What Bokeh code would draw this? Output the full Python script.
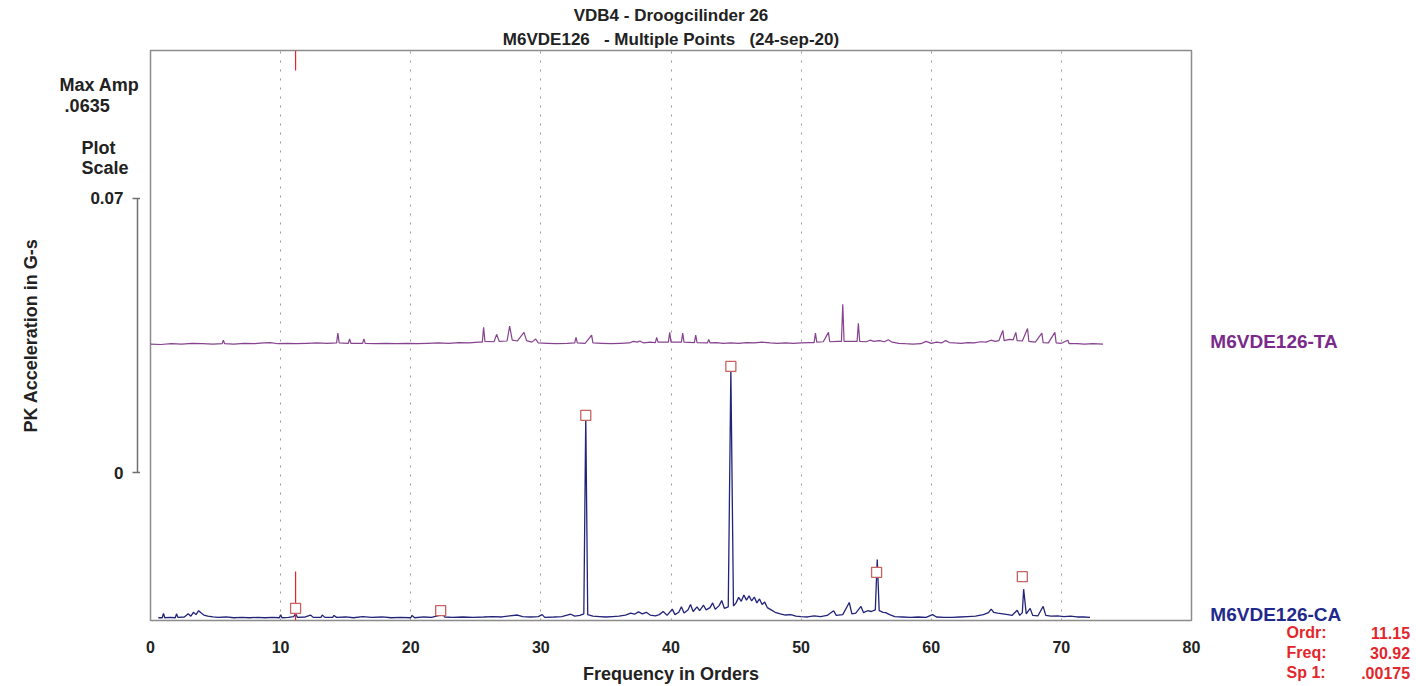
from bokeh.plotting import figure
from bokeh.models import Range1d, FixedTicker, Title
from bokeh.layouts import row, column
from bokeh.core.properties import value
from bokeh.core.validation import silence
from bokeh.core.validation.warnings import MISSING_RENDERERS
from bokeh.embed import file_html
from bokeh.resources import INLINE

silence(MISSING_RENDERERS, True)

# ---------------- data ----------------
title_line1 = "VDB4 - Droogcilinder 26"
title_line2 = "M6VDE126\u00a0\u00a0 - Multiple Points\u00a0\u00a0 (24-sep-20)"
x_label = "Frequency in Orders"
y_label = "PK Acceleration in G-s"
x_ticks = [0, 10, 20, 30, 40, 50, 60, 70, 80]
scale_ticks = [0, 0.07]
scale_tick_labels = {0: "0", 0.07: "0.07"}
max_amp_text = ".0635"
ta_name = "M6VDE126-TA"
ca_name = "M6VDE126-CA"
ta_offset = 0.0698          # waterfall offset of the upper trace (G-s)
cursor_order = 11.15
cursor_freq = 30.92
cursor_amp = ".00175"

ca_orders = [0.6, 0.9, 1.0, 1.1, 1.5, 1.9, 2.0, 2.1, 2.6, 2.9, 3.1, 3.3, 3.5, 3.7, 3.9, 4.1, 4.4, 4.8,
             5.2, 5.8, 6.4, 7.0, 7.6, 8.2, 8.8, 9.4, 9.9, 10.0, 10.1, 10.6, 11.0, 11.15, 11.3, 11.9,
             12.3, 12.5, 13.1, 13.2, 13.4, 14.0, 14.1, 14.3, 15.0, 15.6, 16.3, 17.0, 17.8, 18.5,
             19.2, 20.0, 20.1, 20.3, 21.0, 21.6, 22.2, 22.4, 22.6, 23.2, 24.0, 24.8, 25.6, 26.3,
             27.0, 27.6, 28.2, 28.6, 29.2, 29.8, 30.1, 30.3, 31.0, 31.6, 32.3, 32.6, 33.0, 33.3,
             33.45, 33.6, 34.0, 34.5, 35.0, 35.5, 36.0, 36.5, 36.9, 37.2, 37.5, 37.8, 38.1, 38.4,
             38.8, 39.1, 39.4, 39.7, 40.1, 40.3, 40.6, 40.8, 41.0, 41.3, 41.5, 41.7, 42.0, 42.2,
             42.5, 42.7, 43.0, 43.2, 43.4, 43.7, 43.9, 44.1, 44.4, 44.6, 44.8, 45.0, 45.2, 45.4,
             45.6, 45.8, 46.0, 46.2, 46.4, 46.6, 46.8, 47.0, 47.2, 47.4, 47.7, 48.0, 48.4, 48.8,
             49.2, 49.6, 50.0, 50.5, 51.0, 51.5, 52.0, 52.5, 52.7, 53.2, 53.7, 53.9, 54.2, 54.6,
             54.8, 55.1, 55.4, 55.7, 55.85, 56.0, 56.3, 56.5, 56.8, 57.2, 57.8, 58.4, 59.0, 59.6,
             60.1, 60.4, 61.0, 61.6, 62.2, 62.8, 63.4, 64.0, 64.4, 64.6, 64.8, 65.1, 65.5, 65.9,
             66.2, 66.6, 66.8, 67.0, 67.1, 67.3, 67.6, 67.8, 68.2, 68.6, 68.8, 69.2, 69.7, 70.2,
             70.7, 71.2, 71.7, 72.2]
ca_amps = [0.0002, 0.0002, 0.0013, 0.0002, 0.0003, 0.0002, 0.0012, 0.0003, 0.0004, 0.0012, 0.0006,
           0.0016, 0.0010, 0.0020, 0.0014, 0.0009, 0.0006, 0.0004, 0.0003, 0.0004, 0.0002, 0.0003,
           0.0002, 0.0003, 0.0002, 0.0003, 0.0002, 0.0010, 0.0002, 0.0003, 0.0005, 0.0012, 0.0003,
           0.0004, 0.0009, 0.0003, 0.0003, 0.0009, 0.0003, 0.0003, 0.0008, 0.0003, 0.0004, 0.0002,
           0.0005, 0.0003, 0.0004, 0.0002, 0.0003, 0.0002, 0.0008, 0.0002, 0.0004, 0.0003, 0.0008,
           0.0015, 0.0004, 0.0003, 0.0004, 0.0003, 0.0004, 0.0005, 0.0004, 0.0007, 0.0009, 0.0005,
           0.0004, 0.0005, 0.0010, 0.0003, 0.0004, 0.0005, 0.0011, 0.0006, 0.0008, 0.0012, 0.0516,
           0.0010, 0.0006, 0.0005, 0.0004, 0.0005, 0.0006, 0.0009, 0.0014, 0.0011, 0.0017, 0.0012,
           0.0016, 0.0009, 0.0007, 0.0010, 0.0018, 0.0008, 0.0024, 0.0010, 0.0016, 0.0030, 0.0014,
           0.0022, 0.0036, 0.0018, 0.0030, 0.0020, 0.0034, 0.0022, 0.0028, 0.0040, 0.0024, 0.0033,
           0.0046, 0.0026, 0.0030, 0.0635, 0.0032, 0.0040, 0.0054, 0.0044, 0.0060, 0.0047, 0.0058,
           0.0045, 0.0055, 0.0040, 0.0050, 0.0036, 0.0042, 0.0028, 0.0022, 0.0016, 0.0012, 0.0009,
           0.0010, 0.0006, 0.0005, 0.0004, 0.0007, 0.0005, 0.0008, 0.0020, 0.0008, 0.0010, 0.0041,
           0.0012, 0.0014, 0.0031, 0.0015, 0.0020, 0.0018, 0.0022, 0.0151, 0.0020, 0.0016, 0.0015,
           0.0010, 0.0005, 0.0004, 0.0003, 0.0004, 0.0003, 0.0010, 0.0004, 0.0003, 0.0003, 0.0004,
           0.0005, 0.0006, 0.0010, 0.0015, 0.0024, 0.0016, 0.0014, 0.0012, 0.0010, 0.0008, 0.0021,
           0.0008, 0.0015, 0.0075, 0.0012, 0.0026, 0.0008, 0.0007, 0.0031, 0.0008, 0.0006, 0.0007,
           0.0005, 0.0006, 0.0004, 0.0004, 0.0003]

ta_orders = [0.0, 0.8, 1.6, 2.4, 3.2, 4.0, 4.8, 5.5, 5.6, 5.7, 6.4, 7.2, 8.0, 8.7, 9.2, 9.8, 10.5,
             11.2, 12.0, 12.8, 13.6, 14.3, 14.4, 14.5, 15.2, 15.3, 15.4, 16.3, 16.4, 16.5, 17.3,
             18.1, 18.9, 19.7, 20.5, 21.3, 22.1, 22.9, 23.7, 24.5, 25.2, 25.5, 25.6, 25.7, 26.4,
             26.6, 26.8, 27.4, 27.6, 27.8, 28.2, 28.7, 28.9, 29.3, 29.6, 29.8, 30.5, 31.2, 32.0,
             32.6, 32.7, 32.8, 33.4, 33.9, 34.0, 34.7, 35.4, 36.1, 36.8, 37.1, 37.4, 37.6, 37.9,
             38.4, 38.8, 38.9, 39.0, 39.8, 39.9, 40.0, 40.8, 40.9, 41.0, 41.8, 41.9, 42.0, 42.8,
             42.9, 43.0, 43.5, 44.0, 44.6, 45.2, 45.8, 46.4, 47.0, 47.6, 48.2, 48.8, 49.4, 50.0,
             50.6, 51.0, 51.1, 51.2, 51.7, 52.1, 52.2, 52.8, 53.1, 53.2, 53.3, 53.9, 54.3, 54.4,
             54.5, 55.0, 55.3, 55.6, 56.0, 56.4, 56.7, 57.0, 57.5, 58.0, 58.6, 59.2, 59.6, 60.0,
             60.4, 60.8, 61.1, 61.4, 61.8, 62.3, 62.8, 63.3, 63.8, 64.2, 64.6, 64.9, 65.2, 65.5,
             65.6, 66.0, 66.3, 66.5, 66.6, 67.0, 67.4, 67.5, 68.0, 68.5, 68.6, 69.0, 69.5, 69.6,
             70.0, 70.5, 70.6, 71.2, 71.8, 72.4, 73.2]
ta_amps = [0.0003, 0.0002, 0.0004, 0.0003, 0.0005, 0.0004, 0.0003, 0.0004, 0.0013, 0.0004, 0.0003,
           0.0005, 0.0004, 0.0006, 0.0007, 0.0004, 0.0005, 0.0004, 0.0005, 0.0006, 0.0005, 0.0006,
           0.0031, 0.0006, 0.0005, 0.0016, 0.0005, 0.0005, 0.0016, 0.0005, 0.0004, 0.0005, 0.0004,
           0.0005, 0.0004, 0.0005, 0.0006, 0.0005, 0.0007, 0.0006, 0.0008, 0.0008, 0.0046, 0.0010,
           0.0009, 0.0028, 0.0010, 0.0011, 0.0049, 0.0013, 0.0011, 0.0033, 0.0012, 0.0008, 0.0016,
           0.0006, 0.0005, 0.0004, 0.0005, 0.0006, 0.0020, 0.0006, 0.0005, 0.0026, 0.0006, 0.0005,
           0.0004, 0.0005, 0.0006, 0.0010, 0.0008, 0.0011, 0.0006, 0.0008, 0.0007, 0.0020, 0.0008,
           0.0008, 0.0033, 0.0008, 0.0008, 0.0031, 0.0008, 0.0007, 0.0026, 0.0007, 0.0006, 0.0015,
           0.0006, 0.0007, 0.0005, 0.0006, 0.0005, 0.0007, 0.0006, 0.0008, 0.0006, 0.0005, 0.0006,
           0.0005, 0.0006, 0.0007, 0.0007, 0.0031, 0.0008, 0.0009, 0.0033, 0.0009, 0.0010, 0.0010,
           0.0105, 0.0010, 0.0010, 0.0010, 0.0056, 0.0010, 0.0009, 0.0013, 0.0010, 0.0012, 0.0009,
           0.0014, 0.0008, 0.0005, 0.0004, 0.0003, 0.0004, 0.0010, 0.0005, 0.0008, 0.0006, 0.0012,
           0.0007, 0.0006, 0.0005, 0.0007, 0.0006, 0.0009, 0.0008, 0.0013, 0.0010, 0.0012, 0.0038,
           0.0012, 0.0015, 0.0014, 0.0033, 0.0012, 0.0011, 0.0043, 0.0010, 0.0008, 0.0031, 0.0007,
           0.0006, 0.0033, 0.0006, 0.0005, 0.0013, 0.0004, 0.0004, 0.0003, 0.0004, 0.0003]

peak_orders = [11.15, 22.3, 33.45, 44.6, 55.8, 67.0]
peak_amps = [0.0026, 0.0020, 0.0519, 0.0644, 0.0118, 0.0107]

# cursor marks (G-s): short red line at the top and at the bottom of the plot
cursor_top = [0.1451, 0.1400]
cursor_bottom = [-0.0005, 0.0120]

# ---------------- styling / geometry ----------------
FONT = "Liberation Sans"
GRAY = "#8c8c8c"
TA_COLOR = "#86428f"
CA_COLOR = "#23237a"
RED = "#e3262b"
TXT = "#222222"

H = 686
PAD = 10                      # side padding of the main plot (room for edge tick labels)
FRAME_LEFT = 150              # frame left edge in the page
FRAME_W = 1041                # px for orders 0..80
LEFT_W = FRAME_LEFT - PAD
MAIN_W = FRAME_W + 2 * PAD
RIGHT_W = 1416 - LEFT_W - MAIN_W
TOP, BOTTOM = 50, 66
FRAME_H = H - TOP - BOTTOM    # 570 px
x0, x1 = 0, 80
y0, y1 = -0.0005, 0.1451
kx = (x1 - x0) / FRAME_W      # orders per pixel
ky = (y1 - y0) / FRAME_H      # G-s per pixel


def no_align(fig):
    try:
        fig.frame_align = False
    except Exception:
        pass


# ---------------- main plot ----------------
p = figure(width=MAIN_W, height=H, x_range=Range1d(x0, x1), y_range=Range1d(y0, y1),
           output_backend="svg", toolbar_location=None, title=None, y_axis_location=None,
           min_border_left=PAD, min_border_right=PAD, min_border_top=TOP, min_border_bottom=BOTTOM)
no_align(p)
p.background_fill_color = "white"
p.border_fill_color = "white"
p.outline_line_color = GRAY
p.outline_line_width = 1.5

p.ygrid.visible = False
p.xgrid.ticker = FixedTicker(ticks=x_ticks)
p.xgrid.grid_line_color = "#9a9a9a"
p.xgrid.grid_line_dash = "2 7"
p.xgrid.grid_line_width = 1

xa = p.xaxis[0]
xa.ticker = FixedTicker(ticks=x_ticks)
xa.axis_line_color = None
xa.major_tick_line_color = None
xa.minor_tick_line_color = None
xa.major_label_text_font = FONT
xa.major_label_text_font_style = "bold"
xa.major_label_text_font_size = "16px"
xa.major_label_text_color = TXT
xa.major_label_standoff = 14
xa.axis_label = x_label
xa.axis_label_text_font = FONT
xa.axis_label_text_font_style = "bold"
xa.axis_label_text_font_size = "18px"
xa.axis_label_text_color = TXT
xa.axis_label_standoff = 8

p.add_layout(Title(text=title_line2, align="center", text_font=FONT, text_font_style="bold",
                   text_font_size="17px", text_color=TXT, standoff=3), "above")
p.add_layout(Title(text=title_line1, align="center", text_font=FONT, text_font_style="bold",
                   text_font_size="17px", text_color=TXT, standoff=3), "above")

p.line(ta_orders, [a + ta_offset for a in ta_amps], line_color=TA_COLOR, line_width=1.2)
p.line(ca_orders, ca_amps, line_color=CA_COLOR, line_width=1.3)

p.segment(x0=[cursor_order, cursor_order], y0=[cursor_top[0], cursor_bottom[0]],
          x1=[cursor_order, cursor_order], y1=[cursor_top[1], cursor_bottom[1]],
          line_color=RED, line_width=1.2)

p.scatter(peak_orders, peak_amps, marker="square", size=10, line_color="#c96262",
          fill_color="white", line_width=1.3)


def bare(fig):
    fig.axis.visible = False
    fig.grid.visible = False
    fig.outline_line_color = None
    fig.background_fill_color = "white"
    fig.border_fill_color = "white"
    no_align(fig)


def put(fig, text, x, y, color=TXT, size="17px", align="left"):
    fig.text(x=[x], y=[y], text=[text], text_font=value(FONT), text_font_style="bold",
             text_font_size=size, text_color=color, text_align=align, text_baseline="middle")


# ---------------- left: info texts (top) and plot-scale bar (below) ----------------
TL_H = 180
tl = figure(width=LEFT_W, height=TL_H, output_backend="svg", toolbar_location=None,
            min_border=0,
            x_range=Range1d(x0 - FRAME_LEFT * kx, x0 - PAD * kx),
            y_range=Range1d(y1 - (TL_H - TOP) * ky, y1 + TOP * ky))
bare(tl)
put(tl, "Max Amp", -7.0, 0.1362, size="18px")
put(tl, max_amp_text, -6.6, 0.1311, size="18px")
put(tl, "Plot", -4.0, 0.1201, align="center", size="18px")
put(tl, "Scale", -3.5, 0.1150, align="center", size="18px")

LA_H = H - TL_H
SCALE_ZERO_PX = 292           # scale "0" sits 292 px below the top of this panel
LA_FRAME_H = 310              # frame centred on the scale bar, so the axis title is too
la = figure(width=LEFT_W, height=LA_H, output_backend="svg", toolbar_location=None,
            x_range=Range1d(0, 1),
            y_range=Range1d(-(LA_FRAME_H - SCALE_ZERO_PX) * ky, SCALE_ZERO_PX * ky),
            min_border_left=137, min_border_right=0, min_border_top=0,
            min_border_bottom=LA_H - LA_FRAME_H,
            x_axis_location=None, y_axis_location="left")
no_align(la)
la.grid.visible = False
la.outline_line_color = None
la.background_fill_color = "white"
la.border_fill_color = "white"
sa = la.yaxis[0]
sa.ticker = FixedTicker(ticks=scale_ticks)
sa.bounds = (scale_ticks[0], scale_ticks[-1])
sa.major_label_overrides = scale_tick_labels
sa.axis_line_color = "#707070"
sa.axis_line_width = 1.5
sa.major_tick_line_color = "#707070"
sa.major_tick_line_width = 1.5
sa.major_tick_in = 5
sa.major_tick_out = 5
sa.minor_tick_line_color = None
sa.major_label_standoff = 9
sa.major_label_text_font = FONT
sa.major_label_text_font_style = "bold"
sa.major_label_text_font_size = "17px"
sa.major_label_text_color = TXT
sa.axis_label = y_label
sa.axis_label_text_font = FONT
sa.axis_label_text_font_style = "bold"
sa.axis_label_text_font_size = "18px"
sa.axis_label_text_color = TXT
sa.axis_label_standoff = 46

left = column(tl, la, spacing=0)

# ---------------- right: trace names and cursor readout ----------------
r = figure(width=RIGHT_W, height=H, output_backend="svg", toolbar_location=None, min_border=0,
           x_range=Range1d(x1 + PAD * kx, x1 + (PAD + RIGHT_W) * kx),
           y_range=Range1d(y0 - BOTTOM * ky, y1 + TOP * ky))
bare(r)
put(r, ta_name, 81.45, ta_offset + 0.0009, color="#7a2a8a", size="19px")
put(r, ca_name, 81.45, 0.0010, color="#1f2a8c", size="19px")
readout = [("Ordr:", f"{cursor_order:.2f}", -0.0036),
           ("Freq:", f"{cursor_freq:.2f}", -0.0087),
           ("Sp 1:", cursor_amp, -0.0138)]
for name, val, yy in readout:
    put(r, name, 87.3, yy, color=RED, size="16px")
    put(r, val, 96.8, yy, color=RED, size="16px", align="right")

layout = row(left, p, r, spacing=0)
open("out.html", "w").write(file_html(layout, INLINE))
